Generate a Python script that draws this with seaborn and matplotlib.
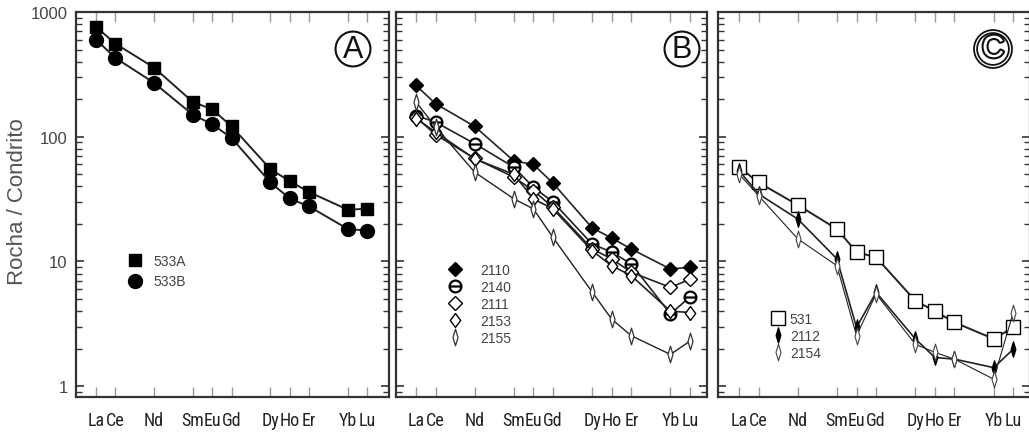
import numpy as np
import pandas as pd
import matplotlib
matplotlib.use('Agg')
import matplotlib.pyplot as plt
import seaborn as sns
from matplotlib.path import Path
from matplotlib.lines import Line2D
from matplotlib import patheffects as pe
from matplotlib import font_manager as fm
from matplotlib.ticker import LogLocator, NullFormatter, FixedLocator, FixedFormatter

# ---------------- data ----------------
elements = ['La', 'Ce', 'Nd', 'Sm', 'Eu', 'Gd', 'Dy', 'Ho', 'Er', 'Yb', 'Lu']
atomic_number = [57, 58, 60, 62, 63, 64, 66, 67, 68, 70, 71]

s533A = [760, 558, 358, 190, 166, 121, 55, 44, 36, 26, 26.5]
s533B = [601, 429, 270, 150, 126, 97.6, 43, 32, 27.6, 18.2, 17.7]

s2110 = [258, 184, 121, 64, 60, 42.5, 18.6, 15.4, 12.6, 8.7, 9.0]
s2140 = [148, 131, 88, 57, 39.4, 30, 13.8, 11.9, 9.55, 3.8, 5.2]
s2111 = [144, 104, 67, 47.5, 37, 27.2, 12.6, 10.5, 8.2, 6.2, 7.2]
s2153 = [140, 109, 66.5, 50, 31.8, 26.4, 12.2, 9.25, 7.7, 4.0, 3.9]
s2155 = [190, 120, 52, 31.8, 26.4, 15.6, 5.7, 3.45, 2.54, 1.8, 2.3]

s531 = [57, 43, 28.4, 18.2, 11.9, 10.8, 4.85, 4.0, 3.25, 2.4, 2.96]
s2112 = [53.6, 34.8, 21.9, 10.5, 2.96, 5.66, 2.4, 1.7, 1.65, 1.41, 1.98]
s2154 = [50.4, 33.7, 15.2, 9.25, 2.54, 5.5, 2.17, 1.87, 1.65, 1.14, 3.9]

y_ticks = [1, 10, 100, 1000]
y_tick_labels = ['1', '10', '100', '1000']
panel_letters = ['A', 'B', 'C']
y_label = 'Rocha / Condrito'

# ---------------- style ----------------
sns.set_style('ticks')


def pick(names):
    for n in names:
        try:
            fm.findfont(fm.FontProperties(family=n), fallback_to_default=False)
            return n
        except Exception:
            pass
    return 'DejaVu Sans'


sans = pick(['Liberation Sans', 'Arial', 'DejaVu Sans'])
narrow = pick(['Liberation Sans Narrow', 'Roboto Condensed', 'Liberation Sans'])
plt.rcParams['font.family'] = [sans, 'DejaVu Sans']

# marker shapes
narrow_diamond = Path([(0, 1), (0.3, 0), (0, -1), (-0.3, 0), (0, 1)],
                      [Path.MOVETO, Path.LINETO, Path.LINETO, Path.LINETO, Path.CLOSEPOLY])
mid_diamond = Path([(0, 1), (0.75, 0), (0, -1), (-0.75, 0), (0, 1)],
                   [Path.MOVETO, Path.LINETO, Path.LINETO, Path.LINETO, Path.CLOSEPOLY])
circ = Path.unit_circle()
bar_circle = Path.make_compound_path(circ, Path([(-1, 0), (1, 0)], [Path.MOVETO, Path.LINETO]))

W, H = 1029, 439
fig = plt.figure(figsize=(W / 100, H / 100), dpi=100)

top_px, bot_px = 13, 398
panels_px = [(76, 389, (55.97, 72.12)), (396, 707, (55.98, 71.87)), (718, 1029.5, (55.93, 71.83))]
axes = []
for (l, r, xl) in panels_px:
    ax = fig.add_axes([l / W, 1 - bot_px / H, (r - l) / W, (bot_px - top_px) / H])
    ax.set_xlim(*xl)
    axes.append(ax)

df = pd.DataFrame({'element': elements, 'Z': atomic_number})

series = [
    # panel, name, values, marker, size, face, edge, lw, mew
    (0, '533A', s533A, 's', 9, 'black', 'black', 1.4, 1.0),
    (0, '533B', s533B, 'o', 10, 'black', 'black', 1.4, 1.0),
    (1, '2110', s2110, 'D', 7, 'black', 'black', 1.2, 1.0),
    (1, '2140', s2140, bar_circle, 8.5, 'white', 'black', 1.2, 1.6),
    (1, '2111', s2111, 'D', 7, 'white', 'black', 1.2, 1.0),
    (1, '2153', s2153, mid_diamond, 10, 'white', 'black', 1.2, 1.0),
    (1, '2155', s2155, narrow_diamond, 12, 'white', '#333333', 1.0, 0.9),
    (2, '531', s531, 's', 10, 'white', 'black', 1.4, 1.0),
    (2, '2112', s2112, narrow_diamond, 11, 'black', 'black', 1.2, 1.0),
    (2, '2154', s2154, narrow_diamond, 12, 'white', '#444444', 0.8, 0.8),
]

handles = {0: [], 1: [], 2: []}
for (p, name, vals, mk, ms, fc, ec, lw, mew) in series:
    ax = axes[p]
    d = df.copy()
    d['value'] = vals
    sns.lineplot(data=d, x='Z', y='value', ax=ax, color='#222222', linewidth=lw,
                 marker=mk, markersize=ms, markerfacecolor=fc, markeredgecolor=ec,
                 markeredgewidth=mew, sort=True, legend=False, zorder=3)
    handles[p].append(Line2D([], [], linestyle='none', marker=mk, markersize=ms,
                             markerfacecolor=fc, markeredgecolor=ec, markeredgewidth=mew,
                             label=name))

for i, ax in enumerate(axes):
    ax.set_yscale('log')
    ax.set_ylim(0.82, 1000)
    ax.set_xlabel('')
    ax.set_ylabel('')
    ax.xaxis.set_major_locator(FixedLocator(atomic_number))
    ax.xaxis.set_major_formatter(FixedFormatter(elements))
    ax.yaxis.set_major_locator(FixedLocator(y_ticks))
    ax.yaxis.set_minor_locator(LogLocator(base=10, subs=np.arange(2, 10)))
    ax.yaxis.set_minor_formatter(NullFormatter())
    if i == 0:
        ax.yaxis.set_major_formatter(FixedFormatter(y_tick_labels))
    else:
        ax.yaxis.set_major_formatter(NullFormatter())
    ax.tick_params(axis='x', which='major', direction='in', top=True, bottom=True,
                   length=7, width=1, color='#9a9a9a', pad=10, labelsize=13,
                   labelcolor='#222222')
    for lab in ax.get_xticklabels():
        lab.set_fontfamily([narrow, 'DejaVu Sans'])
    ax.tick_params(axis='y', which='major', direction='in', left=True, right=True,
                   length=6, width=1.2, color='#333333', pad=6, labelsize=12,
                   labelcolor='#444444')
    ax.tick_params(axis='y', which='minor', direction='in', left=True, right=True,
                   length=4, width=1.0, color='#333333')
    for s in ax.spines.values():
        s.set_visible(True)
        s.set_color('#333333')
        s.set_linewidth(1.6)
    ax.set_facecolor('white')

# panel letters in circles
letter_pos = [(353, 50), (682, 50), (993, 50)]
for i, ax in enumerate(axes):
    l, r, _ = panels_px[i]
    cx, cy = letter_pos[i]
    xa = (cx - l) / (r - l)
    ya = (bot_px - cy) / (bot_px - top_px)
    if i < 2:
        ax.text(xa, ya, panel_letters[i], transform=ax.transAxes, ha='center', va='center',
                fontsize=22, color='#111111', zorder=5,
                bbox=dict(boxstyle='circle,pad=0.08', fc='white', ec='#111111', lw=1.5))
    else:
        ax.text(xa, ya, panel_letters[i], transform=ax.transAxes, ha='center', va='center',
                fontsize=22, color='white', zorder=5,
                path_effects=[pe.Stroke(linewidth=3.0, foreground='#111111'), pe.Normal()],
                bbox=dict(boxstyle='circle,pad=0.08', fc='white', ec='#111111', lw=3.5))
        ax.text(xa, ya, panel_letters[i], transform=ax.transAxes, ha='center', va='center',
                fontsize=22, color='white', zorder=6, alpha=0.0,
                bbox=dict(boxstyle='circle,pad=0.08', fc='none', ec='white', lw=0.9))

# legends
leg_cfg = [
    dict(anchor=(0.166, 0.371), textpad=0.8, spacing=0.45),
    dict(anchor=(0.167, 0.348), textpad=1.3, spacing=0.22),
    dict(anchor=(0.170, 0.221), textpad=0.36, spacing=0.22),
]
for i, ax in enumerate(axes):
    c = leg_cfg[i]
    lg = ax.legend(handles=handles[i], loc='upper left', bbox_to_anchor=c['anchor'],
                   frameon=False, handlelength=1.0, handletextpad=c['textpad'],
                   labelspacing=c['spacing'], borderpad=0, borderaxespad=0,
                   fontsize=10)
    for t in lg.get_texts():
        t.set_color('#444444')

fig.text(18 / W, 1 - 202 / H, y_label, rotation=90, ha='center', va='center',
         fontsize=16, color='#555555')

fig.savefig('out.png', dpi=100, facecolor='white')
